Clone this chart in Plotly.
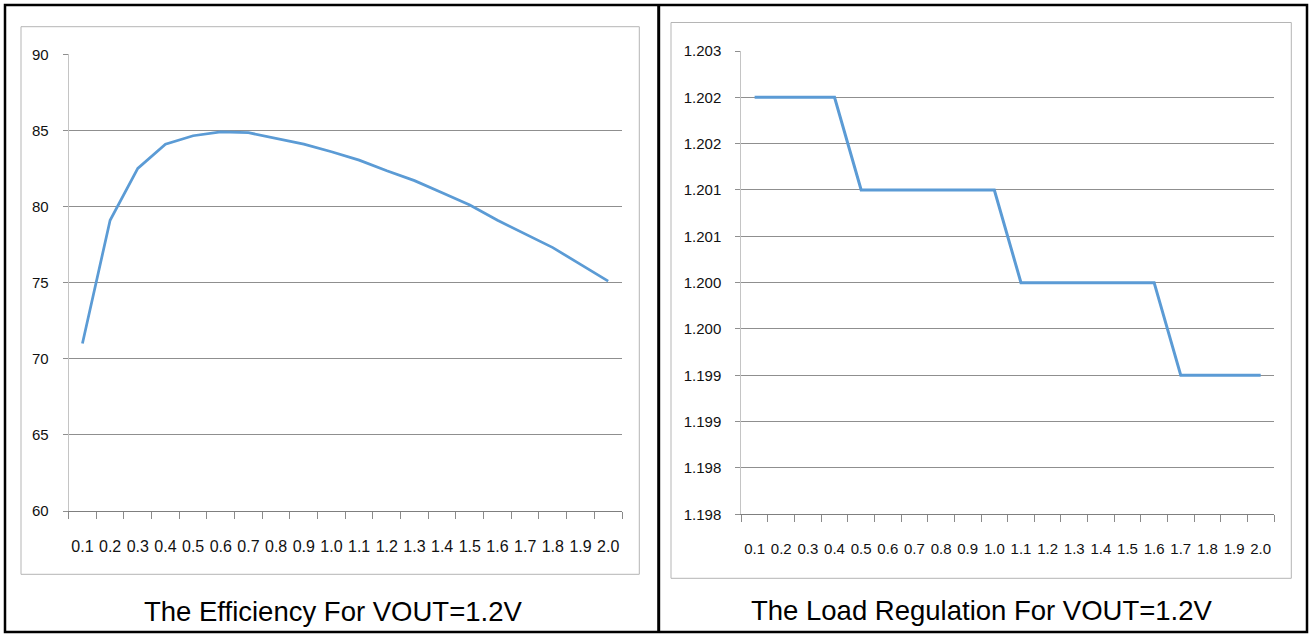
import plotly.graph_objects as go

# ---------------- data ----------------
categories = ["0.1", "0.2", "0.3", "0.4", "0.5", "0.6", "0.7", "0.8", "0.9", "1.0",
              "1.1", "1.2", "1.3", "1.4", "1.5", "1.6", "1.7", "1.8", "1.9", "2.0"]

efficiency = [71.0, 79.1, 82.5, 84.1, 84.65, 84.9, 84.85, 84.5, 84.1, 83.6,
              83.05, 82.35, 81.7, 80.9, 80.1, 79.1, 78.2, 77.3, 76.2, 75.1]

load_regulation = [1.202, 1.202, 1.202, 1.202, 1.201, 1.201, 1.201, 1.201, 1.201, 1.201,
                   1.200, 1.200, 1.200, 1.200, 1.200, 1.200, 1.199, 1.199, 1.199, 1.199]

eff_tick_vals = [60, 65, 70, 75, 80, 85, 90]
eff_tick_text = ["60", "65", "70", "75", "80", "85", "90"]

reg_tick_vals = [1.1975, 1.198, 1.1985, 1.199, 1.1995, 1.200, 1.2005, 1.201, 1.2015, 1.202, 1.2025]
reg_tick_text = ["1.198", "1.198", "1.199", "1.199", "1.200", "1.200", "1.201", "1.201", "1.202", "1.202", "1.203"]

title_left = "The Efficiency For VOUT=1.2V"
title_right = "The Load Regulation For VOUT=1.2V"

# ---------------- styling ----------------
W, H = 1309, 635
LINE_COLOR = "#5B9BD5"
GRID = "#8f8f8f"
TICK_FONT = "Liberation Sans, Arial, sans-serif"
TITLE_FONT = "Liberation Sans, Arial, sans-serif"


def px_x(p):
    return p / W


def px_y(p):
    return 1 - p / H


fig = go.Figure()
fig.add_trace(go.Scatter(x=categories, y=efficiency, mode="lines",
                         line=dict(color=LINE_COLOR, width=2.75),
                         xaxis="x", yaxis="y", hoverinfo="x+y"))
fig.add_trace(go.Scatter(x=categories, y=load_regulation, mode="lines",
                         line=dict(color=LINE_COLOR, width=3),
                         xaxis="x2", yaxis="y2", hoverinfo="x+y"))

common_x = dict(type="category", range=[-0.5, 19.5], tickson="boundaries",
                ticks="outside", ticklen=7, tickcolor="#8a8a8a", tickwidth=1,
                showgrid=False, showline=True, linecolor="#7f7f7f", linewidth=1.3,
                tickangle=0, ticklabelstandoff=21, fixedrange=True, zeroline=False,
                automargin=False)
common_y = dict(ticks="outside", ticklen=5, tickcolor=GRID, tickwidth=1,
                showgrid=True, gridcolor=GRID, gridwidth=1,
                showline=True, linecolor="#c4c4c4", linewidth=1,
                tickfont=dict(family=TICK_FONT, size=15, color="#111111"),
                ticklabelstandoff=11, fixedrange=True, zeroline=False,
                automargin=False)

fig.update_layout(
    width=W, height=H, autosize=False,
    margin=dict(l=0, r=0, t=0, b=0, pad=0, autoexpand=False),
    paper_bgcolor="white", plot_bgcolor="white",
    showlegend=False,
    xaxis=dict(domain=[px_x(68.6), px_x(622)], anchor="y",
               tickfont=dict(family=TICK_FONT, size=16, color="#111111"), **common_x),
    yaxis=dict(domain=[px_y(511), px_y(54.3)], anchor="x", range=[60, 90],
               tickvals=eff_tick_vals, ticktext=eff_tick_text, **common_y),
    xaxis2=dict(domain=[px_x(741.3), px_x(1274)], anchor="y2",
                tickfont=dict(family=TICK_FONT, size=15, color="#111111"), **common_x),
    yaxis2=dict(domain=[px_y(514.3), px_y(51)], anchor="x2", range=[1.1975, 1.2025],
                tickvals=reg_tick_vals, ticktext=reg_tick_text, **common_y),
)

shapes = [
    # outer table border
    dict(type="rect", xref="paper", yref="paper", x0=px_x(5), x1=px_x(1307), y0=px_y(632), y1=px_y(5),
         line=dict(color="black", width=2.5), fillcolor="rgba(0,0,0,0)", layer="above"),
    # divider
    dict(type="line", xref="paper", yref="paper", x0=px_x(658.7), x1=px_x(658.7), y0=px_y(632), y1=px_y(5),
         line=dict(color="black", width=3), layer="above"),
    # inner chart frames
    dict(type="rect", xref="paper", yref="paper", x0=px_x(21), x1=px_x(639.3), y0=px_y(574.3), y1=px_y(26.7),
         line=dict(color="#b5b5b5", width=1), fillcolor="rgba(0,0,0,0)", layer="below"),
    dict(type="rect", xref="paper", yref="paper", x0=px_x(671), x1=px_x(1291.3), y0=px_y(578.3), y1=px_y(22.5),
         line=dict(color="#b5b5b5", width=1), fillcolor="rgba(0,0,0,0)", layer="below"),
]
fig.update_layout(shapes=shapes)

fig.add_annotation(x=px_x(332.5), y=px_y(611), xref="paper", yref="paper", text=title_left,
                   showarrow=False, font=dict(family=TITLE_FONT, size=27.5, color="black"),
                   xanchor="center", yanchor="middle")
fig.add_annotation(x=px_x(981.8), y=px_y(610), xref="paper", yref="paper", text=title_right,
                   showarrow=False, font=dict(family=TITLE_FONT, size=27.5, color="black"),
                   xanchor="center", yanchor="middle")

fig.write_html(
    "out.html", config={"displayModeBar": False},
    post_script=("document.body.style.margin='0';"
                 "document.documentElement.style.overflow='hidden';"
                 "var d=document.getElementById('{plot_id}');"
                 "d.style.position='fixed';d.style.top='0px';d.style.left='0px';"),
)
